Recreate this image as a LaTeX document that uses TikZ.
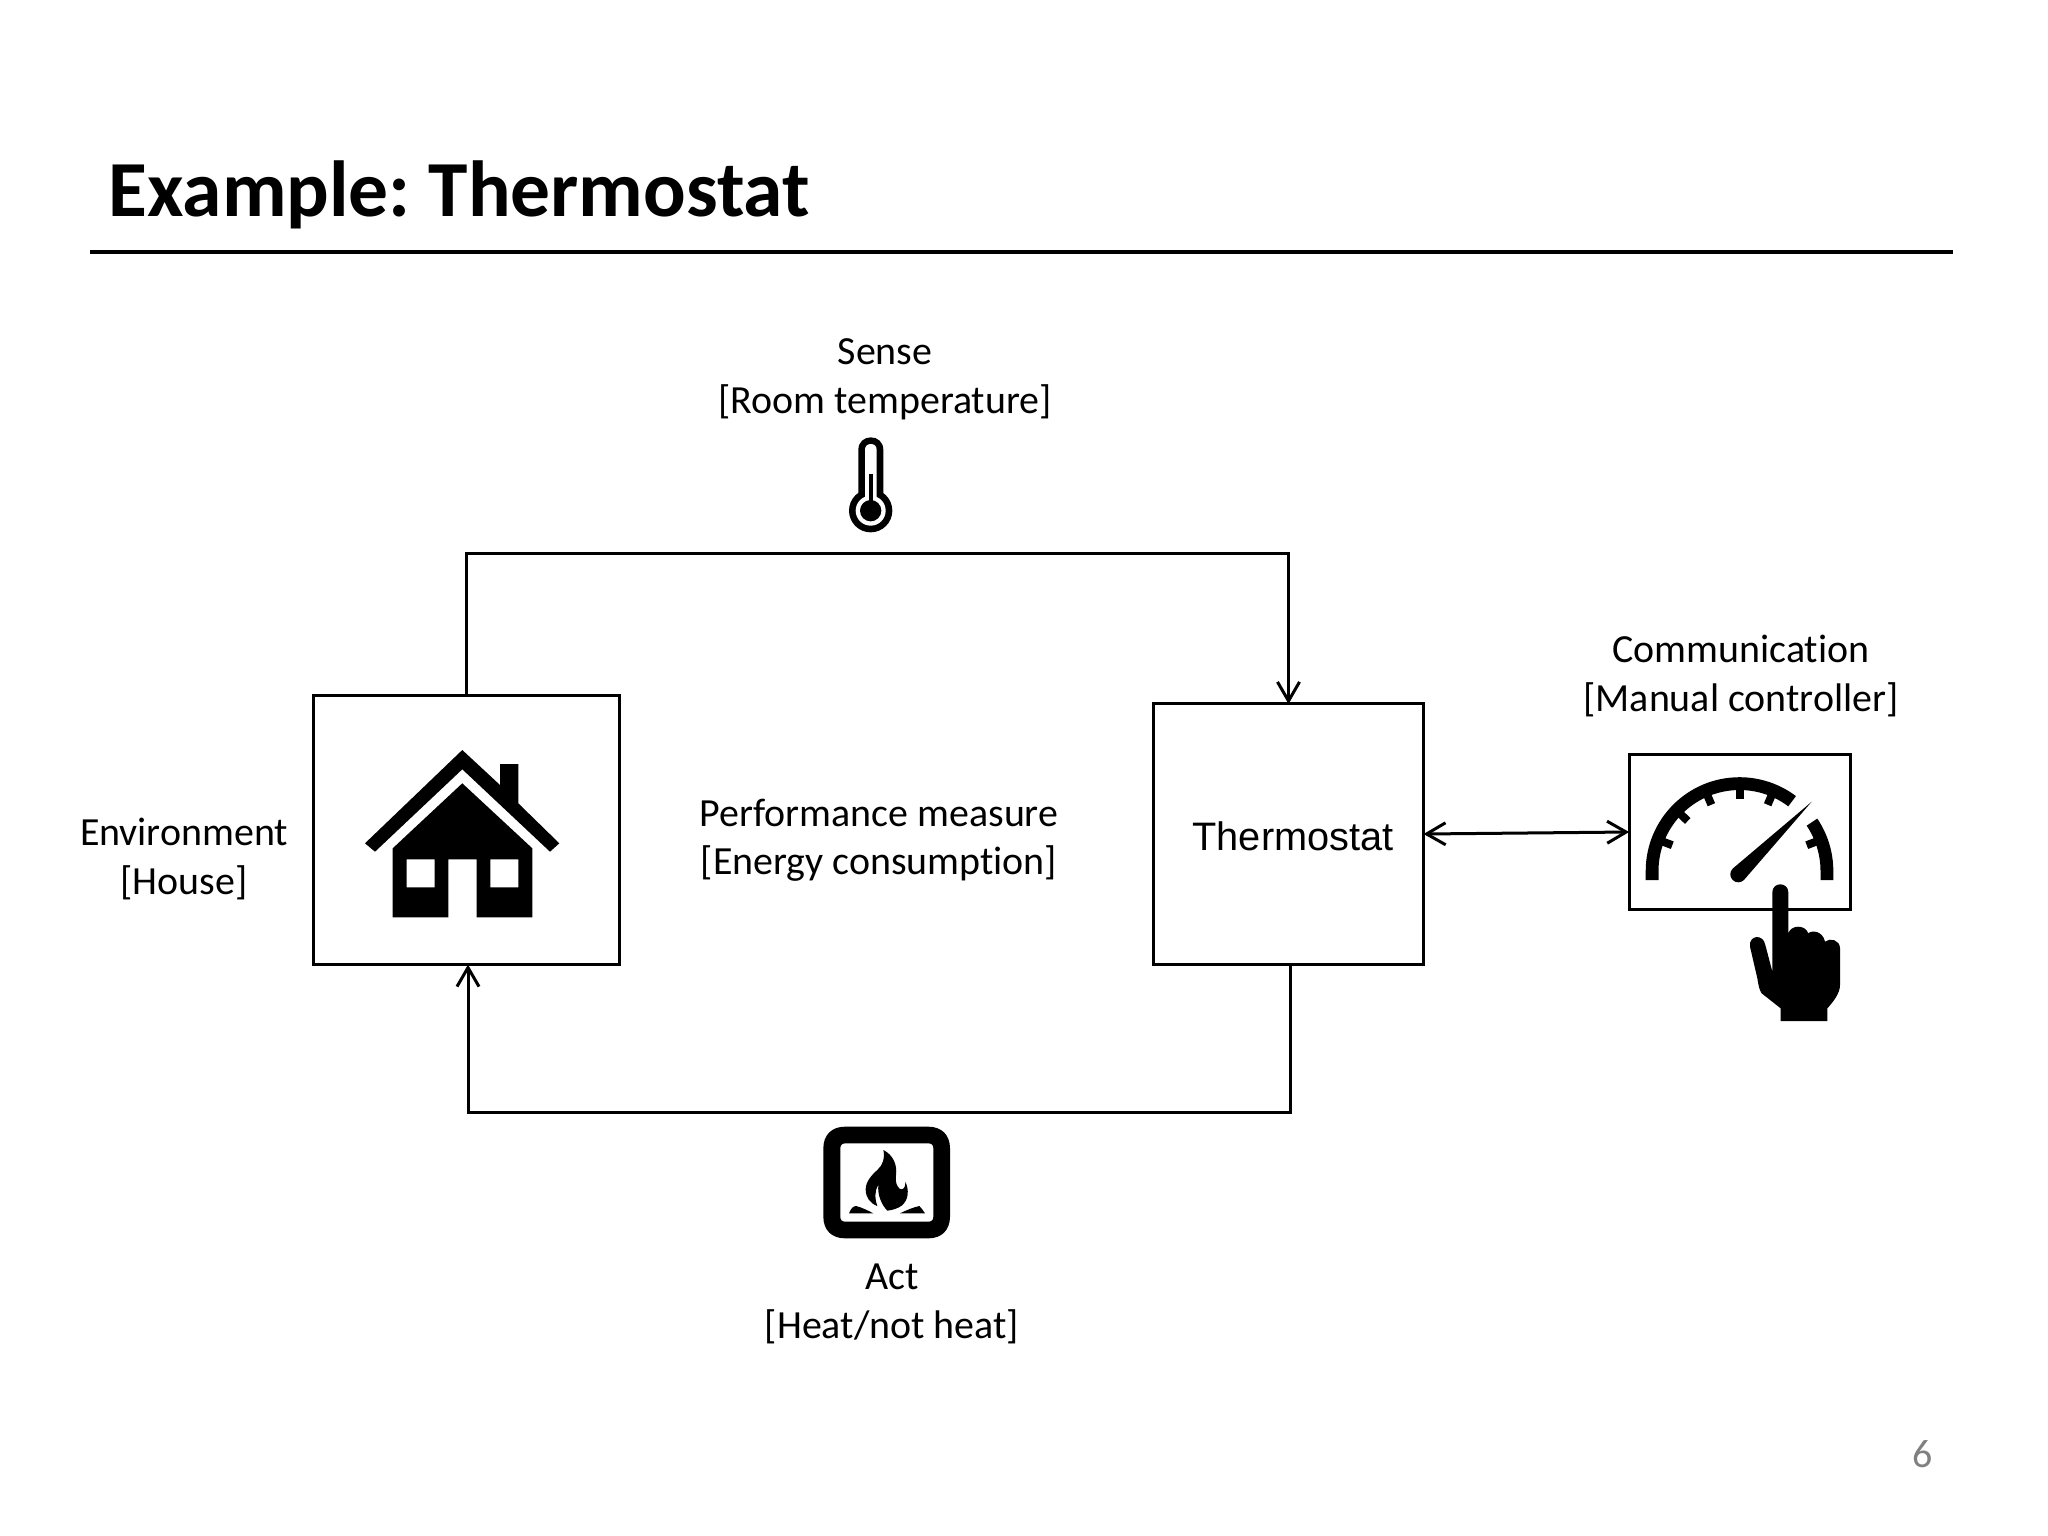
\documentclass[tikz,border=0pt]{standalone}
\usepackage{fontspec}
\setmainfont{Carlito}[Ligatures=NoCommon]
\newfontfamily\arialfont{Liberation Sans}
\usetikzlibrary{arrows.meta}
\definecolor{pagegray}{RGB}{128,128,128}
\frenchspacing
\tikzset{
	box/.style={draw,rectangle,inner sep=0pt,outer sep=0pt,line width=0.03cm},
	tip/.style={line width=0.03cm,arrows={-Straight Barb[length=0.19cm,width=0.22cm]}},
	lbl/.style={align=center,inner sep=0pt,font=\fontsize{11.35}{13.8}\selectfont},
	icon/.style={shift={#1},y=0.01cm},
	zoomed/.style={shift={#1},scale=1/3}
}
\begin{document}
\begin{tikzpicture}[x=0.01cm,y=-0.01cm]
	\useasboundingbox (0,0) rectangle (2048,1536);
	% heading
	\node[anchor=base west,inner sep=0pt,font=\fontsize{22.6}{27}\selectfont\bfseries] (title) at (108,216) {Example: Thermostat};
	\coordinate (ruleL) at (90,251.5);
	\coordinate (ruleR) at (1953,251.5);
	\draw[line width=0.04cm] (ruleL) -- (ruleR);
	\node[lbl,text=pagegray] (page) at (1923,1454) {6};

	% boxes
	\node[box,minimum width=3.05cm,minimum height=2.69cm] (env) at (466.5,830) {};
	\node[box,minimum width=2.70cm,minimum height=2.60cm] (therm) at (1288.5,834) {};
	\node[inner sep=0pt,font=\fontsize{11.3}{13.8}\selectfont\arialfont] (thermlbl) at (1293,836) {Thermostat};
	\node[box,minimum width=2.21cm,minimum height=1.55cm] (ctrl) at (1739.7,832) {};

	% connectors
	\coordinate (sensebus) at (880,553.7);
	\coordinate (actbus) at (880,1112.7);
	\draw[tip] (env.north) |- (sensebus) -| (therm.north);
	\draw[tip] ([xshift=0.015cm]therm.south) |- (actbus) -| ([xshift=0.015cm]env.south);
	\draw[tip,arrows={Straight Barb[length=0.19cm,width=0.22cm]-Straight Barb[length=0.19cm,width=0.22cm]}] (therm.east) -- (ctrl.west);

	% labels
	\node[lbl] (sense) at (885,379) {Sense\\{}[Room temperature]};
	\node[lbl] (envl) at (184,859) {Environment\\{}[House]};
	\node[lbl] (perf) at (879,840) {Performance measure\\{}[Energy consumption]};
	\node[lbl] (comm) at (1741,676) {Communication\\{}[Manual controller]};
	\node[lbl] (act) at (892,1304) {Act\\{}[Heat/not heat]};

	% house
	\fill (462.3,750) -- (500,785) -- (500,764) -- (518.3,764) -- (518.3,803.3) -- (559.3,843.3) -- (550,851.7) -- (462.3,769.3) -- (375,851.7) -- (365,843.3) -- cycle;
	\fill[even odd rule] (462.3,783.3) -- (532.3,848.3) -- (532.3,917.3) -- (476.7,917.3) -- (476.7,859.3) -- (448.3,859.3) -- (448.3,917.3) -- (392.7,917.3) -- (392.7,848.3) -- cycle
		(406.7,859.3) rectangle (434.7,887.3)
		(490.3,859.3) rectangle (518.3,887.3);

	% thermometer
	\begin{scope}[zoomed={(820,420)}]
		\fill (152,272) circle[radius=65];
		\fill (115,235) -- (115,89.5) .. controls (115,66) and (132,52) .. (152.5,52) .. controls (173,52) and (190,66) .. (190,89.5) -- (190,235) -- cycle;
		\fill[white] (152,272) circle[radius=45];
		\fill[white] (135,270) -- (135,89.5) .. controls (135,78) and (142,72) .. (152.5,72) .. controls (163,72) and (170,78) .. (170,89.5) -- (170,270) -- cycle;
		\fill (152,272) circle[radius=32];
		\fill (146,163) rectangle (158,272);
	\end{scope}

	% fire
	\begin{scope}[zoomed={(800,1110)}]
		\fill[even odd rule] (135,50) -- (385,50) .. controls (425,50) and (450,75) .. (450,115) -- (450,320) .. controls (450,360) and (425,385) .. (385,385) -- (135,385) .. controls (95,385) and (70,360) .. (70,320) -- (70,115) .. controls (70,75) and (95,50) .. (135,50) -- cycle
			(136,100) -- (385,100) .. controls (395,100) and (400,105) .. (400,115) -- (400,320) .. controls (400,330) and (395,335) .. (385,335) -- (136,335) .. controls (126,335) and (121,330) .. (121,320) -- (121,115) .. controls (121,105) and (126,100) .. (136,100) -- cycle;
		\fill (250,120) .. controls (280,135) and (292,165) .. (288,195) .. controls (284,220) and (296,240) .. (305,238) .. controls (315,236) and (316,225) .. (316,215) .. controls (328,240) and (326,270) .. (305,287) .. controls (292,296) and (278,300) .. (262,302) .. controls (245,285) and (232,255) .. (235,225) .. controls (222,245) and (225,270) .. (232,288) .. controls (210,280) and (197,262) .. (197,238) .. controls (197,215) and (215,195) .. (232,180) .. controls (248,165) and (256,145) .. (250,120) -- cycle;
		\fill (147,310) .. controls (152,298) and (158,288) .. (168,288) .. controls (185,292) and (205,302) .. (220,310) -- cycle;
		\fill (300,310) .. controls (320,300) and (340,292) .. (358,288) .. controls (365,295) and (370,302) .. (375,310) -- cycle;
	\end{scope}

	% gauge
	\begin{scope}[icon={(1739.5,871)}]
		\fill (-93.8,-9) -- (-93.8,0) arc[start angle=180,end angle=53,radius=93.8] -- (53:81) arc[start angle=53,end angle=180,radius=81] -- (-81,-9) -- cycle;
		\fill (93.8,-9) -- (93.8,0) arc[start angle=0,end angle=34,radius=93.8] -- (34:81) arc[start angle=34,end angle=0,radius=81] -- (81,-9) -- cycle;
		\foreach \a in {159,136,113,90,67,21}
			\draw[line width=0.08cm] (\a:82) -- (\a:72);
		\fill (72.2,69.3) -- (-6.86,2.36) arc[start angle=135,end angle=315,radius=8] -- cycle;
	\end{scope}

	% hand
	\begin{scope}[zoomed={(1620,740)}]
		\fill (457,457) .. controls (457,425) and (505,425) .. (505,457) -- (505,580)
			.. controls (512,555) and (555,552) .. (565,580)
			.. controls (575,570) and (608,572) .. (615,605)
			.. controls (630,592) and (660,600) .. (660,625)
			-- (660,735) .. controls (660,760) and (640,785) .. (622,805)
			-- (622,843) -- (482,843) -- (482,805) -- (425,760) .. controls (418,750) and (415,735) .. (412,715)
			-- (390,620) .. controls (385,585) and (430,580) .. (436,615)
			-- (457,695) -- cycle;
	\end{scope}
\end{tikzpicture}
\end{document}
